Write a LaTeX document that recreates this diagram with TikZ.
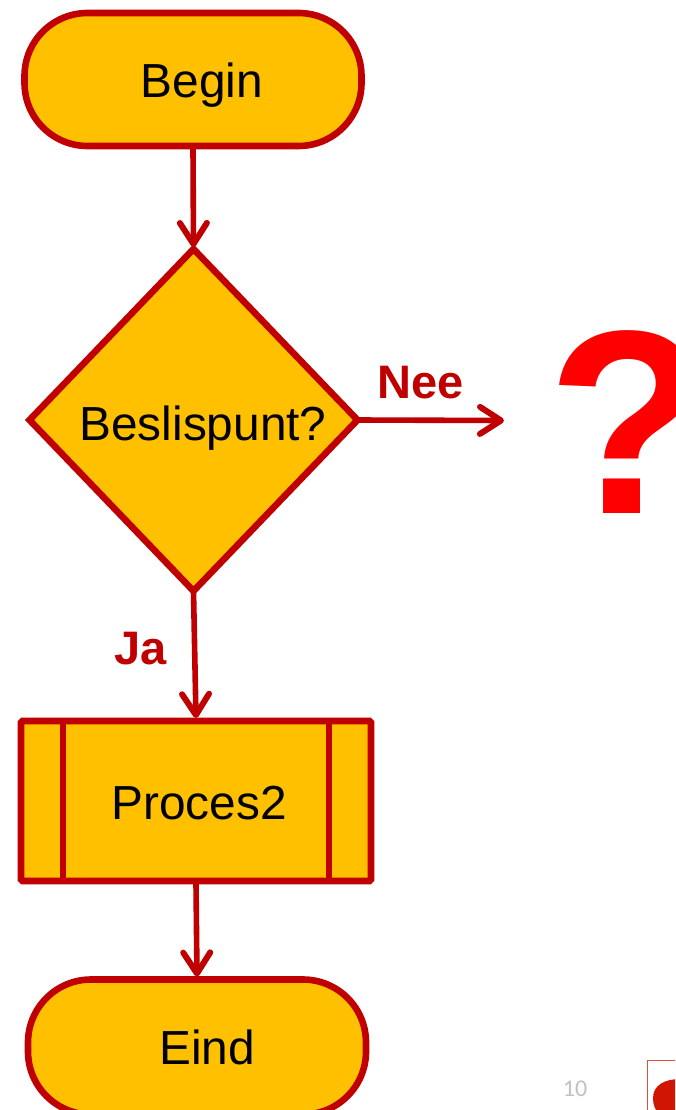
\documentclass[tikz,border=0pt]{standalone}
\usepackage{fontspec}
\setmainfont{Liberation Sans}
\newfontfamily\pagefont{Carlito}
\usetikzlibrary{shapes.geometric,arrows.meta}
\definecolor{flowred}{HTML}{C00000}
\definecolor{flowfill}{HTML}{FFC000}
\definecolor{pagegray}{HTML}{C8BCCB}
\definecolor{logored}{HTML}{D01505}
\tikzset{
  flowshape/.style={draw=flowred,fill=flowfill,line width=6.6pt,inner sep=0pt,outer sep=3pt},
  terminator/.style={flowshape,rectangle,rounded corners=63pt,minimum width=337pt,minimum height=133pt},
  decision/.style={flowshape,diamond,outer sep=0pt,minimum width=328pt,minimum height=342pt},
  subproc/.style={flowshape,rectangle,rounded corners=1.5pt,minimum width=350pt,minimum height=160pt},
  flowtext/.style={font=\fontsize{47.8}{50}\selectfont,text=black,inner sep=0pt,anchor=base},
  flowlabel/.style={font=\bfseries\fontsize{47}{50}\selectfont,text=flowred,inner sep=0pt,anchor=base},
  flowarrow/.style={draw=flowred,line width=5.6pt,-{Straight Barb[length=21pt,width=27pt,round,line width=6pt]}}
}
\begin{document}
\begin{tikzpicture}[x=1pt,y=-1pt]
\useasboundingbox (0,0) rectangle (675,1110);
\clip (0,0) rectangle (675,1110);
\node[terminator] (begin) at (193,79.5) {};
\node[decision] (dec) at (193.5,420) {};
\node[subproc] (proc) at (196,801) {};
\draw[flowred,line width=6pt] (63,722) coordinate (pl1) -- (63,880) coordinate (pl2);
\draw[flowred,line width=6pt] (329,722) coordinate (pr1) -- (329,880) coordinate (pr2);
\node[terminator,minimum width=338pt,minimum height=135pt] (eind) at (197,1047) {};
\node[flowtext] (tbegin) at (202,97.5) {Begin};
\node[flowtext] (tdec) at (203,440) {Beslispunt?};
\node[flowtext] (tproc) at (199,819) {Proces2};
\node[flowtext] (teind) at (207,1064) {Eind};
\node[flowlabel] (nee) at (421,398) {Nee};
\node[flowlabel] (ja) at (141,664) {Ja};
\node[font=\bfseries\fontsize{262}{264}\selectfont,text=red,inner sep=0pt,anchor=base] (q) at (628,513) {?};
\coordinate (neeend) at (504,420.5);
\draw[flowarrow,shorten >=2pt] (begin.south) -- (dec.north);
\draw[flowarrow] (dec.east) -- (neeend);
\draw[flowarrow] (dec.south) -- (proc.north);
\draw[flowarrow] (proc.south) -- (eind.north);
\node[font=\pagefont\fontsize{24}{26}\selectfont,text=pagegray,inner sep=0pt,anchor=base] (pagenum) at (575,1096) {10};
\draw[draw=logored!75,fill=white,line width=1pt] (647.5,1060.5) rectangle (690,1130);
\fill[logored] (653,1098) .. controls (653,1085) and (665,1079) .. (680,1079) -- (680,1115) -- (660,1115) .. controls (655,1110) and (653,1105) .. (653,1098) -- cycle;
\end{tikzpicture}
\end{document}
